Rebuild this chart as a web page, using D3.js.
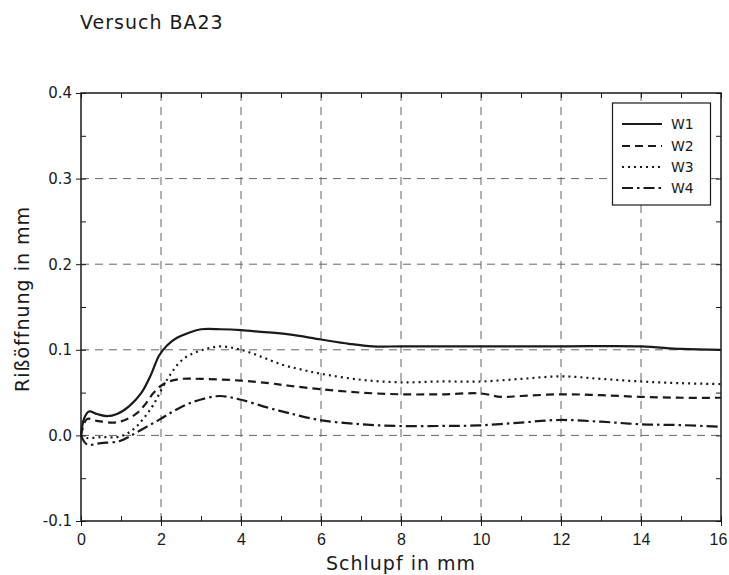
<!DOCTYPE html>
<html><head><meta charset="utf-8">
<script src="https://cdn.jsdelivr.net/npm/d3@7"></script>
<style>body{margin:0;background:#fff}text{font-family:"DejaVu Sans",sans-serif;fill:#1a1a1a}</style>
</head><body><svg id="c" width="729" height="575"></svg>
<script>
const title = "Versuch BA23";
const xLabel = "Schlupf in mm";
const yLabel = "Rißöffnung in mm";
const xTicks = [0,2,4,6,8,10,12,14,16];
const yTicks = [-0.1,0.0,0.1,0.2,0.3,0.4];
const seriesNames = ["W1","W2","W3","W4"];

const w1x = [0,0.08,0.2,0.4,0.65,0.9,1.2,1.5,1.75,1.95,2.15,2.4,2.7,3.0,3.5,4.0,4.5,5.2,6.0,6.7,7.3,8,10,12,14,15,16];
const w1y = [0,0.02,0.028,0.025,0.0225,0.025,0.034,0.049,0.071,0.093,0.105,0.114,0.120,0.124,0.124,0.123,0.121,0.118,0.112,0.107,0.104,0.104,0.104,0.104,0.104,0.101,0.100];
const w2x = [0,0.15,0.4,0.8,1.1,1.4,1.6,1.8,2.0,2.2,2.5,3.0,4.0,4.7,5.2,6.0,7.0,8.0,9.0,10.0,10.5,11.0,12.0,13.0,14.0,15.0,16.0];
const w2y = [0,0.019,0.017,0.015,0.018,0.026,0.036,0.049,0.058,0.063,0.066,0.066,0.064,0.061,0.058,0.054,0.05,0.048,0.048,0.049,0.045,0.046,0.048,0.047,0.045,0.044,0.044];
const w3x = [0,0.15,0.5,0.9,1.15,1.4,1.6,1.8,2.15,2.55,3.05,3.5,4.0,4.5,5.0,5.5,6.0,7.0,8.0,9.0,10.0,11.0,12.0,13.0,14.0,15.0,16.0];
const w3y = [0,-0.003,-0.002,-0.002,0.002,0.011,0.022,0.035,0.065,0.089,0.100,0.104,0.100,0.092,0.083,0.077,0.072,0.065,0.062,0.063,0.063,0.066,0.069,0.066,0.063,0.061,0.060];
const w4x = [0,0.15,0.5,0.97,1.22,1.6,1.97,2.3,2.63,3.0,3.47,3.97,4.7,5.2,5.96,7.0,7.96,9.0,9.95,11.0,11.95,13.0,14.0,15.0,16.0];
const w4y = [0,-0.0105,-0.009,-0.0066,-0.001,0.009,0.0187,0.028,0.036,0.042,0.046,0.042,0.032,0.026,0.018,0.013,0.011,0.011,0.0117,0.015,0.018,0.016,0.013,0.012,0.010];

const series = [
  {name:seriesNames[0], xs:w1x, ys:w1y, dash:null, w:2.2},
  {name:seriesNames[1], xs:w2x, ys:w2y, dash:"8,5", w:2.2},
  {name:seriesNames[2], xs:w3x, ys:w3y, dash:"2,4", w:2.2},
  {name:seriesNames[3], xs:w4x, ys:w4y, dash:"11,4,2.5,4", w:2.2}
];

const L=81, R=721, T=93, B=521;
const svg = d3.select("#c");
const x = d3.scaleLinear().domain([0,16]).range([L,R]);
const y = d3.scaleLinear().domain([-0.1,0.4]).range([B,T]);
const ink = "#1a1a1a";

// grid
const g = svg.append("g");
g.selectAll("line.gx").data(xTicks.filter(d=>d>0&&d<16)).join("line")
  .attr("x1",d=>x(d)).attr("x2",d=>x(d)).attr("y1",T).attr("y2",B)
  .attr("stroke","#666").attr("stroke-width",1).attr("stroke-dasharray","8,6");
g.selectAll("line.gy").data(yTicks.filter(d=>d>-0.1&&d<0.4)).join("line")
  .attr("x1",L).attr("x2",R).attr("y1",d=>y(d)).attr("y2",d=>y(d))
  .attr("stroke","#666").attr("stroke-width",1).attr("stroke-dasharray","8,6");

// frame
svg.append("rect").attr("x",L).attr("y",T).attr("width",R-L).attr("height",B-T)
  .attr("fill","none").attr("stroke",ink).attr("stroke-width",1.5);

// axes
const xMinor = d3.range(0,17,1);
const yMinor = d3.range(-0.1,0.4001,0.05);
const yFmt = d => d3.format(".1f")(d).replace("\u2212","-");
svg.append("g").attr("transform",`translate(0,${B})`)
  .call(d3.axisBottom(x).tickValues(xTicks).tickFormat(d3.format("d")).tickSize(5).tickPadding(8))
  .call(a=>{a.select(".domain").remove();a.selectAll("line").attr("stroke",ink);
    a.selectAll("text").attr("font-size",16).style("font-family","Liberation Sans, Arial, sans-serif")
     .attr("dx",d=>d===16?-3:0);});
svg.append("g").attr("transform",`translate(0,${B})`)
  .call(d3.axisTop(x).tickValues(xMinor).tickFormat("").tickSize(5))
  .call(a=>{a.select(".domain").remove();a.selectAll("line").attr("stroke",ink);});
svg.append("g").attr("transform",`translate(0,${T})`)
  .call(d3.axisBottom(x).tickValues(xMinor).tickFormat("").tickSize(5))
  .call(a=>{a.select(".domain").remove();a.selectAll("line").attr("stroke",ink);});
svg.append("g").attr("transform",`translate(${L},0)`)
  .call(d3.axisLeft(y).tickValues(yTicks).tickFormat(yFmt).tickSize(5).tickPadding(4))
  .call(a=>{a.select(".domain").remove();a.selectAll("line").attr("stroke",ink);a.selectAll("text").attr("font-size",15).style("font-family","DejaVu Sans");});
svg.append("g").attr("transform",`translate(${L},0)`)
  .call(d3.axisRight(y).tickValues(yMinor).tickFormat("").tickSize(5))
  .call(a=>{a.select(".domain").remove();a.selectAll("line").attr("stroke",ink);});
svg.append("g").attr("transform",`translate(${R},0)`)
  .call(d3.axisLeft(y).tickValues(yMinor).tickFormat("").tickSize(5))
  .call(a=>{a.select(".domain").remove();a.selectAll("line").attr("stroke",ink);});

// curves
const line = d3.line().x(d=>x(d[0])).y(d=>y(d[1])).curve(d3.curveCatmullRom.alpha(0.5));
series.forEach(s=>{
  svg.append("path").datum(s.xs.map((v,i)=>[v,s.ys[i]]))
    .attr("d",line).attr("fill","none").attr("stroke",ink)
    .attr("stroke-width",s.w).attr("stroke-dasharray",s.dash)
    .attr("stroke-linecap","butt").attr("stroke-linejoin","round");
});

// legend
const lg = svg.append("g");
lg.append("rect").attr("x",612.5).attr("y",103).attr("width",98).attr("height",102)
  .attr("fill","#fff").attr("stroke",ink).attr("stroke-width",1.2);
const rowsY = [124,146,167,188];
series.forEach((s,i)=>{
  lg.append("line").attr("x1",622).attr("x2",662).attr("y1",rowsY[i]).attr("y2",rowsY[i])
    .attr("stroke",ink).attr("stroke-width",2.2).attr("stroke-dasharray",s.dash);
  lg.append("text").attr("x",671).attr("y",rowsY[i]+5).attr("font-size",14).text(s.name);
});

// titles
svg.append("text").attr("x",80).attr("y",29).attr("font-size",19).attr("letter-spacing",1).text(title);
svg.append("text").attr("x",401).attr("y",570).attr("text-anchor","middle").attr("font-size",19).attr("letter-spacing",1).text(xLabel);
svg.append("text").attr("transform","translate(29,299) rotate(-90)").attr("text-anchor","middle").attr("font-size",19).attr("letter-spacing",1).text(yLabel);
</script></body></html>
